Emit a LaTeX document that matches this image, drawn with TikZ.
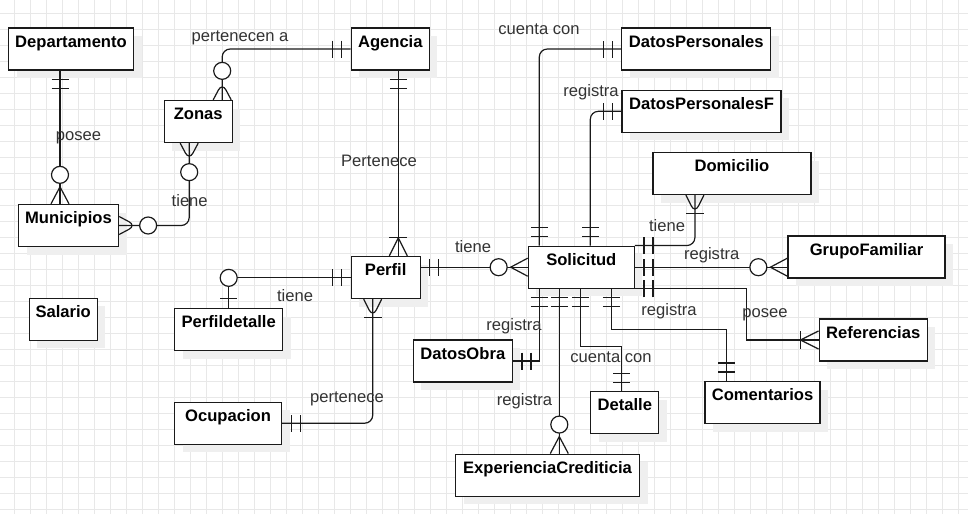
\documentclass[tikz,border=0pt]{standalone}
\usepackage{fontspec}
\setmainfont{Liberation Sans}
\usetikzlibrary{shadows,decorations.markings}

\definecolor{linegray}{HTML}{1A1A1A}
\definecolor{labelgray}{HTML}{333333}
\definecolor{gridgray}{HTML}{E8E8E8}
\definecolor{shadowgray}{HTML}{EFEFEF}

\tikzset{
  gridline/.style={draw=gridgray, line width=1pt},
  entity/.style={draw=linegray, line width=1.3pt, fill=white, inner sep=0pt,
    text height=19pt, text depth=23pt,
    font=\fontsize{16.6}{18}\selectfont\bfseries,
    drop shadow={shadow xshift=8pt, shadow yshift=-8pt, fill=shadowgray, draw=none, opacity=1}},
  rel/.style={draw=linegray, line width=1.2pt},
  lbl/.style={anchor=base, inner sep=0pt, text=labelgray,
    font=\fontsize{16.6}{18}\selectfont},
  one start/.style={postaction={decorate, decoration={markings,
    mark=at position 9pt with {\draw[rel] (0pt,-8.5pt) -- (0pt,8.5pt) ;},
    mark=at position 18pt with {\draw[rel] (0pt,-8.5pt) -- (0pt,8.5pt) ;}}}},
  one end/.style={postaction={decorate, decoration={markings,
    mark=at position -9pt with {\draw[rel] (0pt,-8.5pt) -- (0pt,8.5pt) ;},
    mark=at position -18pt with {\draw[rel] (0pt,-8.5pt) -- (0pt,8.5pt) ;}}}},
  zmany start/.style={postaction={decorate, decoration={markings,
    mark=at position 17pt with {\draw[rel] (-17pt,-9pt) -- (0pt,0pt) -- (-17pt,9pt) ;},
    mark=at position 29pt with {\draw[rel, fill=white] (0pt,0pt) circle (8.5pt) ;}}}},
  zmany end/.style={postaction={decorate, decoration={markings,
    mark=at position -17pt with {\draw[rel] (17pt,-9pt) -- (0pt,0pt) -- (17pt,9pt) ;},
    mark=at position -29pt with {\draw[rel, fill=white] (0pt,0pt) circle (8.5pt) ;}}}},
  omany end/.style={postaction={decorate, decoration={markings,
    mark=at position -18pt with {\draw[rel] (18pt,-9pt) -- (0pt,0pt) -- (18pt,9pt) ;
      \draw[rel] (0pt,-9pt) -- (0pt,9pt) ;}}}},
  zone end/.style={postaction={decorate, decoration={markings,
    mark=at position -9pt with {\draw[rel] (0pt,-8.5pt) -- (0pt,8.5pt) ;},
    mark=at position -30pt with {\draw[rel, fill=white] (0pt,0pt) circle (8.5pt) ;}}}}
}

\begin{document}
\begin{tikzpicture}[x=1pt,y=-1pt]

\useasboundingbox (0,0) rectangle (968,514) ;
\fill[white] (0,0) rectangle (968,514) ;

\foreach \gx in {14.3,30.3,...,968} { \draw[gridline] (\gx,0) -- (\gx,514) ; }
\foreach \gy in {13.3,29.3,...,514} { \draw[gridline] (0,\gy) -- (968,\gy) ; }

\node[entity, minimum width=125pt] (dep) at (71,49) {Departamento} ;
\node[entity, minimum width=78pt] (age) at (390.3,49) {Agencia} ;
\node[entity, minimum width=149pt] (dp) at (696.3,49) {DatosPersonales} ;
\node[entity, minimum width=159pt] (dpf) at (701.5,111.3) {DatosPersonalesF} ;
\node[entity, minimum width=158pt] (dom) at (731.9,173.5) {Domicilio} ;
\node[entity, minimum width=68pt] (zon) at (198.2,121.5) {Zonas} ;
\node[entity, minimum width=100pt] (mun) at (68.5,225.5) {Municipios} ;
\node[entity, minimum width=69pt] (per) at (385.7,277.5) {Perfil} ;
\node[entity, minimum width=106pt] (sol) at (581.3,267.2) {Solicitud} ;
\node[entity, minimum width=157pt] (gf) at (866.5,257) {GrupoFamiliar} ;
\node[entity, minimum width=108pt] (ref) at (873.2,340) {Referencias} ;
\node[entity, minimum width=115pt] (com) at (762.5,402.7) {Comentarios} ;
\node[entity, minimum width=68pt] (det) at (624.8,412.8) {Detalle} ;
\node[entity, minimum width=184pt] (exp) at (547.5,475.2) {ExperienciaCrediticia} ;
\node[entity, minimum width=99pt] (dob) at (462.8,361) {DatosObra} ;
\node[entity, minimum width=108pt] (pdet) at (228.7,329.5) {Perfildetalle} ;
\node[entity, minimum width=107pt] (ocu) at (228,423.2) {Ocupacion} ;
\node[entity, minimum width=68pt] (sal) at (63.2,319.2) {Salario} ;

\draw[rel, one start, zmany end] ([xshift=-11pt]dep.south) -- ([xshift=-11pt]dep.south |- mun.north) ;
\draw[rel, zmany start, zmany end, rounded corners=8pt] (mun.east) -| ([xshift=-9pt]zon.south) ;
\draw[rel, one start, zmany end, rounded corners=8pt] (age.west) -| ([xshift=24pt]zon.north) ;
\draw[rel, one start, omany end] ([xshift=8pt]age.south) -- ([xshift=8pt]age.south |- per.north) ;

\draw[rel, one start, zmany end] (per.east |- sol.west) -- (sol.west) ;
\draw[rel, one start, zone end] (per.west) -| (pdet.north) ;
\draw[rel, one start, omany end, rounded corners=8pt] (ocu.east) -| ([xshift=-13pt]per.south) ;

\draw[rel, one start, one end, rounded corners=8pt] ([xshift=-42pt]sol.north) |- (dp.west) ;
\draw[rel, one start, one end, rounded corners=8pt] ([xshift=9pt]sol.north) |- (dpf.west) ;
\draw[rel, one start, omany end, rounded corners=8pt] (sol.north east) -| ([xshift=-37pt]dom.south) ;
\draw[rel, one start, zmany end] (sol.east) -- (sol.east -| gf.west) ;
\draw[rel, one start, omany end] (sol.south east) -- ([xshift=-72pt]ref.west |- sol.south east) |- (ref.west) ;
\draw[rel, one start, one end] ([xshift=30pt]sol.south) -- ++(0,41) -| ([xshift=-36pt]com.north) ;
\draw[rel, one start, one end] ([xshift=-1pt]sol.south) -- ++(0,58) -| ([xshift=-3pt]det.north) ;
\draw[rel, one start, zmany end] ([xshift=-22pt]sol.south) -- ([xshift=-22pt]sol.south |- exp.north) ;
\draw[rel, one start, one end] ([xshift=-42pt]sol.south) |- (dob.east) ;

\node[lbl] (lpertenecen) at (240,41.7) {pertenecen a} ;
\node[lbl] (lposee) at (78.5,140.7) {posee} ;
\node[lbl] (ltienezon) at (189.7,206.7) {tiene} ;
\node[lbl] (lpertenece) at (379,166.7) {Pertenece} ;
\node[lbl] (lcuentadp) at (539,34) {cuenta con} ;
\node[lbl] (lregdpf) at (591,96.7) {registra} ;
\node[lbl] (ltienedom) at (667,231.7) {tiene} ;
\node[lbl] (lreggf) at (711.7,259.3) {registra} ;
\node[lbl] (ltienesol) at (473,252.7) {tiene} ;
\node[lbl] (ltienepdet) at (295,301) {tiene} ;
\node[lbl] (lposeeref) at (765,317) {posee} ;
\node[lbl] (lregcom) at (669,315) {registra} ;
\node[lbl] (lregdob) at (514,330.7) {registra} ;
\node[lbl] (lcuentadet) at (611,362.3) {cuenta con} ;
\node[lbl] (lregexp) at (524.5,405) {registra} ;
\node[lbl] (lperteneceocu) at (347,402.7) {pertenece} ;

\end{tikzpicture}
\end{document}
